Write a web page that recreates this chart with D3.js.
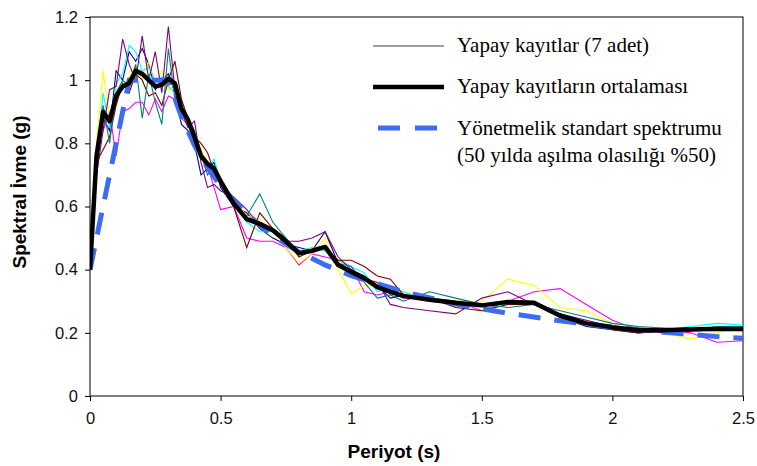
<!DOCTYPE html>
<html>
<head>
<meta charset="utf-8">
<script src="https://cdn.jsdelivr.net/npm/d3@7"></script>
<style>
  body { margin: 0; background: #fff; }
  .tick text { font-family: "Liberation Sans", Arial, sans-serif; font-size: 16.5px; fill: #111; }
</style>
</head>
<body>
<div id="graph"></div>
<script>
// periods (s)
const periods = [0, 0.025, 0.05, 0.075, 0.1, 0.125, 0.15, 0.175, 0.2, 0.225, 0.25, 0.275, 0.3, 0.325, 0.35, 0.375, 0.4, 0.425, 0.45, 0.475, 0.5,
  0.55, 0.6, 0.65, 0.7, 0.75, 0.8, 0.85, 0.9, 0.95, 1.0, 1.05, 1.1, 1.15, 1.2, 1.3, 1.4, 1.5, 1.6, 1.7, 1.8, 1.9, 2.0, 2.1, 2.2, 2.3, 2.4, 2.5];

// artificial records (7)
const rec1 = [0.40,0.72,0.88,0.84,1.03,1.00,1.09,1.06,1.10,1.05,0.97,1.00,1.02,0.96,0.86,0.84,0.80,0.70,0.72,0.74,0.66,0.60,0.58,0.53,0.50,0.48,0.47,0.46,0.52,0.42,0.40,0.38,0.35,0.31,0.32,0.31,0.30,0.29,0.30,0.29,0.25,0.22,0.21,0.20,0.205,0.21,0.21,0.21];
const rec2 = [0.40,0.78,0.84,0.90,0.76,0.90,0.91,0.93,0.93,0.89,0.94,0.90,0.95,0.94,0.88,0.86,0.80,0.76,0.73,0.66,0.59,0.60,0.50,0.49,0.49,0.47,0.415,0.45,0.44,0.43,0.41,0.33,0.32,0.33,0.31,0.31,0.30,0.27,0.30,0.33,0.34,0.29,0.24,0.21,0.21,0.20,0.17,0.175];
const rec3 = [0.40,0.80,1.03,0.88,0.97,0.98,1.01,1.05,1.00,1.06,0.99,1.03,0.97,0.99,0.92,0.88,0.83,0.78,0.74,0.71,0.67,0.63,0.57,0.56,0.52,0.47,0.42,0.45,0.50,0.40,0.325,0.35,0.36,0.34,0.33,0.31,0.30,0.30,0.37,0.35,0.28,0.27,0.23,0.22,0.20,0.18,0.20,0.22];
const rec4 = [0.40,0.74,0.96,0.85,0.99,1.02,1.11,1.09,1.03,1.04,1.00,1.01,0.98,0.96,0.90,0.87,0.78,0.76,0.72,0.75,0.68,0.62,0.55,0.52,0.52,0.49,0.46,0.47,0.46,0.43,0.41,0.39,0.33,0.345,0.33,0.30,0.29,0.29,0.29,0.30,0.25,0.23,0.22,0.21,0.21,0.22,0.23,0.225];
const rec5 = [0.40,0.70,0.84,0.97,0.98,1.13,1.05,1.00,1.14,1.00,1.09,0.96,1.17,0.97,0.90,0.85,0.87,0.74,0.66,0.67,0.65,0.63,0.59,0.54,0.52,0.49,0.49,0.50,0.52,0.44,0.40,0.37,0.36,0.29,0.28,0.27,0.26,0.31,0.33,0.29,0.26,0.24,0.22,0.21,0.20,0.205,0.21,0.21];
const rec6 = [0.40,0.74,0.78,0.82,0.92,0.99,0.96,1.02,1.00,0.95,0.96,0.92,1.00,1.06,0.94,0.88,0.82,0.80,0.77,0.71,0.67,0.60,0.47,0.58,0.53,0.50,0.44,0.46,0.47,0.43,0.43,0.41,0.38,0.37,0.32,0.31,0.28,0.27,0.29,0.29,0.26,0.23,0.21,0.20,0.21,0.21,0.215,0.21];
const rec7 = [0.40,0.76,0.92,0.80,0.96,1.00,0.98,1.05,0.88,1.02,0.93,0.86,1.10,0.94,0.92,0.88,0.84,0.77,0.70,0.73,0.68,0.60,0.57,0.64,0.55,0.50,0.45,0.46,0.47,0.42,0.41,0.36,0.31,0.32,0.30,0.33,0.31,0.29,0.28,0.29,0.27,0.25,0.23,0.22,0.215,0.21,0.22,0.22];
const records = [rec1, rec2, rec3, rec4, rec5, rec6, rec7];
const recColors = ["#000080", "#ff00ff", "#ffff00", "#00ffff", "#800080", "#800000", "#008080"];

// mean of the records
const meanVals = [0.40,0.76,0.90,0.87,0.95,0.98,0.99,1.03,1.02,1.00,0.98,0.985,1.005,0.99,0.91,0.875,0.82,0.76,0.735,0.72,0.68,0.61,0.56,0.545,0.525,0.49,0.452,0.46,0.472,0.415,0.393,0.373,0.345,0.33,0.317,0.305,0.295,0.287,0.298,0.295,0.254,0.23,0.218,0.208,0.208,0.211,0.212,0.212];

// code design spectrum
const codeT = [0, 0.15, 0.3, 0.35, 0.4, 0.45, 0.5, 0.6, 0.7, 0.8, 0.9, 1.0, 1.2, 1.4, 1.6, 1.8, 2.0, 2.2, 2.4, 2.5];
const codeVals = [0.40, 1.0, 1.0, 0.884, 0.794, 0.723, 0.665, 0.576, 0.508, 0.456, 0.415, 0.381, 0.330, 0.291, 0.262, 0.238, 0.218, 0.202, 0.188, 0.183];

const xTicks = [0, 0.5, 1, 1.5, 2, 2.5];
const yTicks = [0, 0.2, 0.4, 0.6, 0.8, 1, 1.2];

const legendLabels = ["Yapay kayıtlar (7 adet)", "Yapay kayıtların ortalaması",
  "Yönetmelik standart spektrumu", "(50 yılda aşılma olasılığı %50)"];

const w = 757, h = 466;
const margin = {top: 17, right: 14, bottom: 70, left: 90};
const innerWidth = w - margin.left - margin.right;
const innerHeight = h - margin.top - margin.bottom;

const svg = d3.select("#graph").append("svg")
  .attr("width", w)
  .attr("height", h);

const xScale = d3.scaleLinear().domain([0, 2.5]).range([0, innerWidth]);
const yScale = d3.scaleLinear().domain([0, 1.2]).range([innerHeight, 0]);

const g = svg.append("g").attr("transform", `translate(${margin.left},${margin.top})`);

// frame
g.append("rect")
  .attr("width", innerWidth).attr("height", innerHeight)
  .attr("fill", "none").attr("stroke", "#000").attr("stroke-width", 1);

// axes
g.append("g")
  .attr("transform", `translate(0,${innerHeight})`)
  .call(d3.axisBottom(xScale).tickValues(xTicks).tickSize(5).tickPadding(11).tickFormat(d3.format("")))
  .call(a => a.select(".domain").remove());

g.append("g")
  .call(d3.axisLeft(yScale).tickValues(yTicks).tickSize(5).tickPadding(7).tickFormat(d3.format("")))
  .call(a => a.select(".domain").remove());

const line = d3.line()
  .x(d => xScale(d[0]))
  .y(d => yScale(d[1]));

svg.append("clipPath").attr("id", "clip")
  .append("rect").attr("width", innerWidth).attr("height", innerHeight);

const plot = g.append("g").attr("clip-path", "url(#clip)");

records.forEach((rec, i) => {
  plot.append("path")
    .attr("d", line(periods.map((t, j) => [t, rec[j]])))
    .attr("fill", "none")
    .attr("stroke", recColors[i])
    .attr("stroke-width", 1.1);
});

plot.append("path")
  .attr("d", line(codeT.map((t, j) => [t, codeVals[j]])))
  .attr("fill", "none")
  .attr("stroke", "#3d6cf2")
  .attr("stroke-width", 5)
  .attr("stroke-dasharray", "22,14");

plot.append("path")
  .attr("d", line(periods.map((t, j) => [t, meanVals[j]])))
  .attr("fill", "none")
  .attr("stroke", "#000")
  .attr("stroke-width", 4.5)
  .attr("stroke-linejoin", "round");

// axis titles
svg.append("text")
  .attr("x", 394)
  .attr("y", 458)
  .attr("text-anchor", "middle")
  .style("font-family", "Liberation Sans, Arial, sans-serif")
  .style("font-weight", "bold")
  .style("font-size", "19px")
  .text("Periyot (s)");

svg.append("text")
  .attr("transform", "translate(26,192) rotate(-90)")
  .attr("text-anchor", "middle")
  .style("font-family", "Liberation Sans, Arial, sans-serif")
  .style("font-weight", "bold")
  .style("font-size", "19px")
  .text("Spektral İvme (g)");

// legend
const leg = svg.append("g").style("font-family", "Liberation Serif, Times New Roman, serif").style("font-size", "21px");
leg.append("line").attr("x1", 373).attr("x2", 444).attr("y1", 46).attr("y2", 46)
  .attr("stroke", "#808080").attr("stroke-width", 1.3);
leg.append("line").attr("x1", 373).attr("x2", 444).attr("y1", 87).attr("y2", 87)
  .attr("stroke", "#000").attr("stroke-width", 4.5);
leg.append("line").attr("x1", 378).attr("x2", 437).attr("y1", 128).attr("y2", 128)
  .attr("stroke", "#3d6cf2").attr("stroke-width", 5).attr("stroke-dasharray", "22,15");
leg.append("text").attr("x", 457).attr("y", 52).text(legendLabels[0]);
leg.append("text").attr("x", 457).attr("y", 93).text(legendLabels[1]);
leg.append("text").attr("x", 457).attr("y", 135).text(legendLabels[2]);
leg.append("text").attr("x", 457).attr("y", 162).text(legendLabels[3]);
</script>
</body>
</html>
